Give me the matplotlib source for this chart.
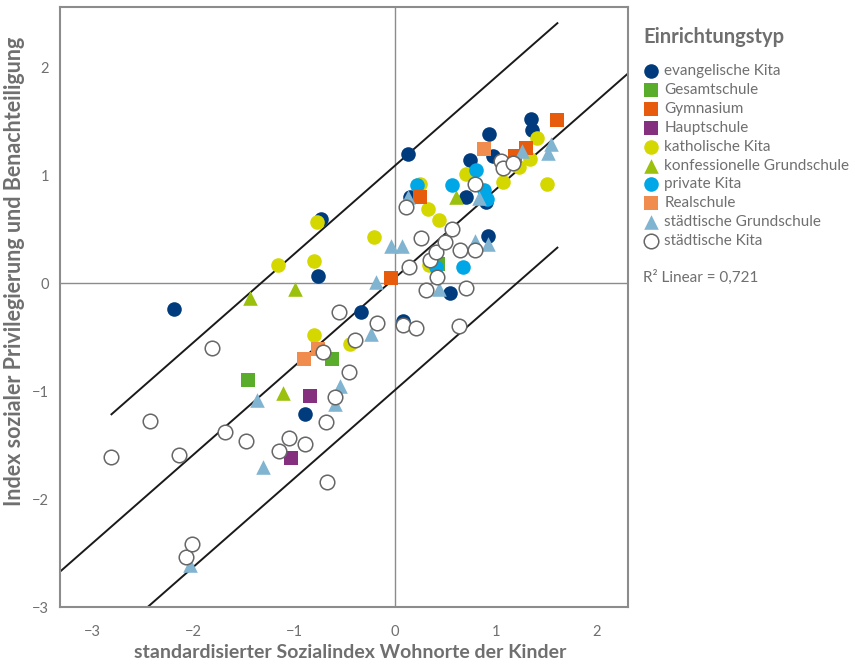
import numpy as np
import matplotlib
matplotlib.use("Agg")
import matplotlib.pyplot as plt

plt.rcParams['font.family'] = ['Lato', 'DejaVu Sans']
plt.rcParams['axes.unicode_minus'] = True

grey_text = '#6f6f6f'

# Daten: x = Sozialindex Wohnorte, y = Index Privilegierung
ev_kita_x = [-2.19, -0.73, -0.76, 0.13, 0.93, 1.35, 1.36, 0.97, 0.74, 0.70, 0.90, 0.15, 0.92, 0.55, -0.34, 0.08, -0.89]
ev_kita_y = [-0.24, 0.60, 0.07, 1.20, 1.38, 1.52, 1.42, 1.18, 1.14, 0.80, 0.75, 0.80, 0.44, -0.09, -0.27, -0.35, -1.21]

gesamt_x = [-1.46, -0.62, 0.43]
gesamt_y = [-0.90, -0.70, 0.18]

gymn_x = [1.61, 1.30, 1.19, 0.25, -0.04]
gymn_y = [1.51, 1.25, 1.18, 0.80, 0.05]

haupt_x = [-0.84, -1.03]
haupt_y = [-1.04, -1.62]

kath_kita_x = [-1.16, -0.77, -0.80, -0.21, -0.80, -0.45, 0.25, 0.33, 0.44, 0.70, 1.07, 1.23, 1.34, 1.41, 1.51, 0.34]
kath_kita_y = [0.17, 0.57, 0.21, 0.43, -0.48, -0.56, 0.92, 0.69, 0.59, 1.01, 0.94, 1.08, 1.15, 1.35, 0.92, 0.17]

konf_gs_x = [-1.44, -0.99, -1.11, 0.61]
konf_gs_y = [-0.14, -0.05, -1.02, 0.80]

priv_kita_x = [0.22, 0.57, 0.80, 0.88, 0.91, 0.67, 0.41]
priv_kita_y = [0.91, 0.91, 1.05, 0.86, 0.78, 0.15, 0.15]

real_x = [-0.90, -0.76, 0.88]
real_y = [-0.70, -0.61, 1.24]

staedt_gs_x = [-2.03, -1.31, -1.37, -0.54, -0.59, -0.24, -0.19, -0.04, 0.07, 0.44, 0.79,
               0.92, 0.83, 1.26, 1.52, 1.55, 0.13]
staedt_gs_y = [-2.61, -1.70, -1.08, -0.95, -1.12, -0.47, 0.01, 0.35, 0.35, -0.05, 0.39,
               0.36, 0.79, 1.23, 1.21, 1.29, 0.80]

staedt_kita_x = [-2.81, -2.43, -2.14, -1.81, -1.68, -1.48, -1.15, -1.05, -0.89, -0.68, -0.67,
                 -2.07, -2.01, -0.71, -0.59, -0.46, -0.40, -0.55, -0.18, 0.08, 0.21, 0.63,
                 0.31, 0.70, 0.42, 0.14, 0.35, 0.41, 0.50, 0.64, 0.79, 0.26, 0.57, 0.11,
                 0.79, 1.05, 1.07, 1.17]
staedt_kita_y = [-1.61, -1.28, -1.59, -0.60, -1.38, -1.46, -1.55, -1.43, -1.49, -1.29, -1.84,
                 -2.54, -2.42, -0.64, -1.05, -0.82, -0.53, -0.27, -0.37, -0.39, -0.41, -0.40,
                 -0.06, -0.04, 0.06, 0.15, 0.22, 0.29, 0.38, 0.31, 0.31, 0.42, 0.50, 0.71,
                 0.92, 1.13, 1.07, 1.11]

# lineare Regression mit Vorhersageintervall
fit_a = 0.05
fit_b = 0.82
fit_band = 1.04
r2_text = 'R² Linear = 0,721'

fig = plt.figure(figsize=(8.55, 6.68), dpi=100)
ax = fig.add_axes([0.0702, 0.0913, 0.6643, 0.8982])

xmin, xmax = -3.32, 2.31
ax.set_xlim(xmin, xmax)
ax.set_ylim(-3.0, 2.56)

ax.axhline(0, color='#8c8c8c', lw=1.0, zorder=1)
ax.axvline(0, color='#8c8c8c', lw=1.0, zorder=1)

all_x = np.concatenate([ev_kita_x, gesamt_x, gymn_x, haupt_x, kath_kita_x, konf_gs_x,
                        priv_kita_x, real_x, staedt_gs_x, staedt_kita_x])
xs_full = np.array([xmin, xmax])
xs_data = np.array([all_x.min(), all_x.max()])
ax.plot(xs_full, fit_a + fit_b * xs_full, color='#1a1a1a', lw=1.4, zorder=2)
ax.plot(xs_data, fit_a + fit_b * xs_data + fit_band, color='#1a1a1a', lw=1.4, zorder=2)
ax.plot(xs_data, fit_a + fit_b * xs_data - fit_band, color='#1a1a1a', lw=1.4, zorder=2)

s = 110
kw = dict(s=s, linewidths=0, zorder=3)
h_ev = ax.scatter(ev_kita_x, ev_kita_y, marker='o', color='#003c7d', label='evangelische Kita', **kw)
h_konf = ax.scatter(konf_gs_x, konf_gs_y, marker='^', color='#9bc00d', label='konfessionelle Grundschule', **kw)
h_kath = ax.scatter(kath_kita_x, kath_kita_y, marker='o', color='#d4d700', label='katholische Kita', **kw)
h_gesamt = ax.scatter(gesamt_x, gesamt_y, marker='s', color='#5aad2a', label='Gesamtschule', **kw)
h_priv = ax.scatter(priv_kita_x, priv_kita_y, marker='o', color='#00a7e7', label='private Kita', **kw)
h_haupt = ax.scatter(haupt_x, haupt_y, marker='s', color='#84307f', label='Hauptschule', **kw)
h_gymn = ax.scatter(gymn_x, gymn_y, marker='s', color='#e75b0c', label='Gymnasium', **kw)
h_real = ax.scatter(real_x, real_y, marker='s', color='#f08c4e', label='Realschule', **kw)
h_sgs = ax.scatter(staedt_gs_x, staedt_gs_y, marker='^', color='#80b4d1', label='städtische Grundschule', **kw)
h_skita = ax.scatter(staedt_kita_x, staedt_kita_y, marker='o', facecolor='white', edgecolor='#666666',
                     s=s, linewidths=1.1, zorder=3, label='städtische Kita')

for sp in ax.spines.values():
    sp.set_color('#8c8c8c')
    sp.set_linewidth(1.5)

ax.set_xticks([-3, -2, -1, 0, 1, 2])
ax.set_yticks([-3, -2, -1, 0, 1, 2])
ax.tick_params(axis='both', length=0, labelsize=10.5, colors=grey_text)
ax.tick_params(axis='x', pad=13)
ax.tick_params(axis='y', pad=8)

ax.set_xlabel('standardisierter Sozialindex Wohnorte der Kinder', fontsize=14,
              fontweight='bold', color=grey_text)
ax.xaxis.set_label_coords(0.51, -0.062)
ax.set_ylabel('Index sozialer Privilegierung und Benachteiligung', fontsize=15.5,
              fontweight='bold', color=grey_text)
ax.yaxis.set_label_coords(-0.062, 0.56)

handles = [h_ev, h_gesamt, h_gymn, h_haupt, h_kath, h_konf, h_priv, h_real, h_sgs, h_skita]
leg = fig.legend(handles=handles, loc='upper left', bbox_to_anchor=(0.7455, 0.968),
                 frameon=False, fontsize=11, title='Einrichtungstyp',
                 title_fontproperties={'size': 14.5, 'weight': 'bold'},
                 alignment='left', handletextpad=0.35, labelspacing=0.32,
                 borderaxespad=0, handlelength=1.0, scatterpoints=1)
leg.get_title().set_color(grey_text)
for t in leg.get_texts():
    t.set_color(grey_text)
leg._legend_box.sep = 12

fig.text(0.752, 0.585, r2_text, fontsize=11, color=grey_text, va='center', ha='left')

fig.savefig('out.png', dpi=100)
